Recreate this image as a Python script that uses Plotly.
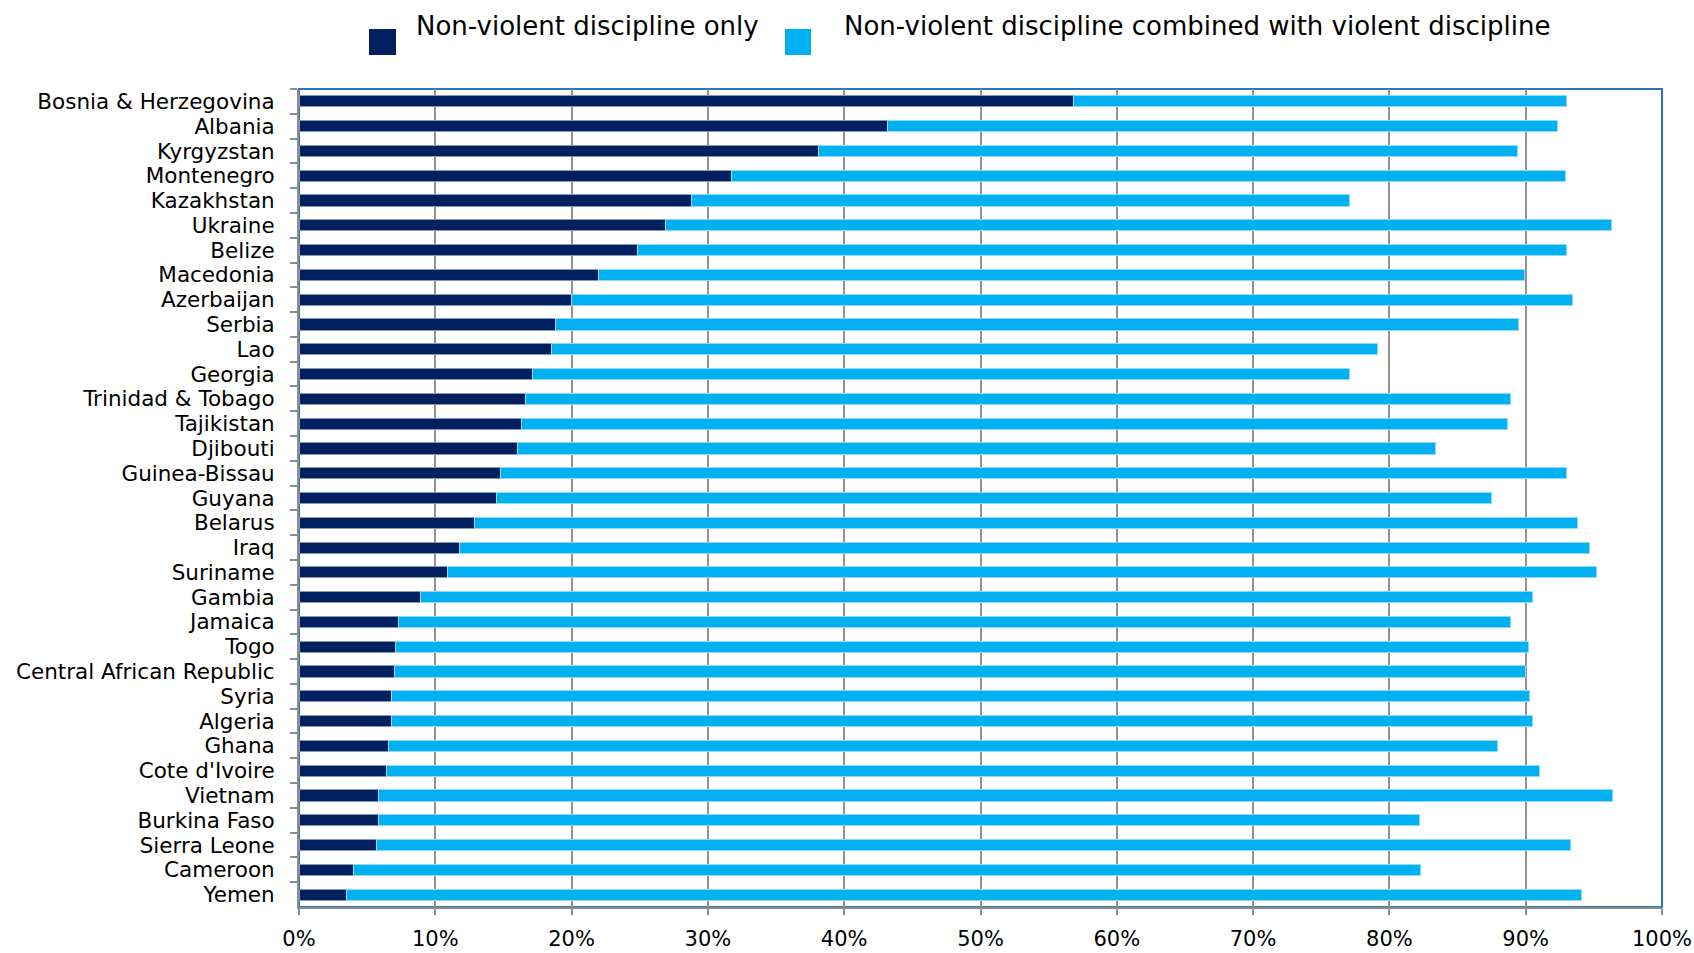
import plotly.graph_objects as go

# Countries, listed top to bottom
countries = [
    "Bosnia & Herzegovina", "Albania", "Kyrgyzstan", "Montenegro", "Kazakhstan",
    "Ukraine", "Belize", "Macedonia", "Azerbaijan", "Serbia", "Lao", "Georgia",
    "Trinidad & Tobago", "Tajikistan", "Djibouti", "Guinea-Bissau", "Guyana",
    "Belarus", "Iraq", "Suriname", "Gambia", "Jamaica", "Togo",
    "Central African Republic", "Syria", "Algeria", "Ghana", "Cote d'Ivoire",
    "Vietnam", "Burkina Faso", "Sierra Leone", "Cameroon", "Yemen",
]

# Share of children experiencing non-violent discipline only (%)
nonviolent_only = [
    56.8, 43.2, 38.1, 31.7, 28.8, 26.9, 24.8, 22.0, 20.0, 18.8, 18.5, 17.1,
    16.6, 16.3, 16.0, 14.8, 14.5, 12.9, 11.8, 10.9, 8.9, 7.3, 7.1, 7.0, 6.8,
    6.8, 6.6, 6.4, 5.8, 5.8, 5.7, 4.0, 3.5,
]

# Total share experiencing any non-violent discipline (%)
nonviolent_total = [
    93.0, 92.3, 89.4, 92.9, 77.1, 96.3, 93.0, 89.9, 93.4, 89.5, 79.1, 77.1,
    88.9, 88.7, 83.4, 93.0, 87.5, 93.8, 94.7, 95.2, 90.5, 88.9, 90.2, 90.0,
    90.3, 90.5, 87.9, 91.0, 96.4, 82.2, 93.3, 82.3, 94.1,
]

# Non-violent discipline combined with violent discipline (%)
combined = [round(t - o, 1) for t, o in zip(nonviolent_total, nonviolent_only)]

series_names = [
    "Non-violent discipline only",
    "Non-violent discipline combined with violent discipline",
]
series_colors = ["#002060", "#00B0F0"]
edge_colors = ["#8596b8", "#8fdcf8"]

x_ticks = list(range(0, 101, 10))
x_tick_text = [f"{v}%" for v in x_ticks]

FONT = "DejaVu Sans, sans-serif"

fig = go.Figure()
for name, vals, col, edge in zip(series_names, [nonviolent_only, combined],
                                 series_colors, edge_colors):
    fig.add_trace(go.Bar(
        y=countries, x=vals, name=name, orientation="h",
        marker=dict(color=col, line=dict(color=edge, width=1)),
        showlegend=False,
    ))

W, H = 1694, 953
ML, MR, MT, MB = 299, 32, 89, 46
PW, PH = W - ML - MR, H - MT - MB


def px_x(p):
    return (p - ML) / PW


def px_y(p):
    return (H - MB - p) / PH


# Plot frame: blue border on top/right
fig.add_shape(type="rect", xref="paper", yref="paper", x0=0, x1=1, y0=0, y1=1,
              line=dict(color="#2E75B6", width=2), layer="below")

# Legend drawn as squares and labels above the plot
legend_items = [
    (369, 396, 414),
    (785, 811, 842),
]
for (sx0, sx1, tx), name, col in zip(legend_items, series_names, series_colors):
    fig.add_shape(type="rect", xref="paper", yref="paper",
                  x0=px_x(sx0), x1=px_x(sx1), y0=px_y(55), y1=px_y(29),
                  fillcolor=col, line=dict(width=0))
    fig.add_annotation(xref="paper", yref="paper", x=px_x(tx), y=px_y(26),
                       xanchor="left", yanchor="middle", showarrow=False,
                       text=name, font=dict(family=FONT, size=26, color="#000000"))

fig.update_layout(
    width=W, height=H,
    margin=dict(l=ML, r=MR, t=MT, b=MB),
    barmode="stack",
    bargap=0.55,
    plot_bgcolor="white",
    paper_bgcolor="white",
    font=dict(family=FONT, color="#000000"),
    xaxis=dict(
        range=[0, 100], tickvals=x_ticks, ticktext=x_tick_text,
        showgrid=True, gridcolor="#929292", gridwidth=2,
        showline=True, linecolor="#8c8c8c", linewidth=2,
        ticks="outside", ticklen=6, tickwidth=2, tickcolor="#8c8c8c",
        tickfont=dict(family=FONT, size=21, color="#000000"),
        ticklabelstandoff=6,
        zeroline=False, fixedrange=True, automargin=False,
    ),
    yaxis=dict(
        type="category", autorange="reversed",
        tickmode="linear", dtick=1,
        showgrid=False,
        showline=True, linecolor="#8c8c8c", linewidth=2,
        ticks="outside", ticklen=7, tickwidth=2, tickcolor="#8c8c8c",
        tickson="boundaries",
        tickfont=dict(family=FONT, size=21.5, color="#000000"),
        ticklabelstandoff=18,
        fixedrange=True, automargin=False,
    ),
)

fig.write_html("out.html")
